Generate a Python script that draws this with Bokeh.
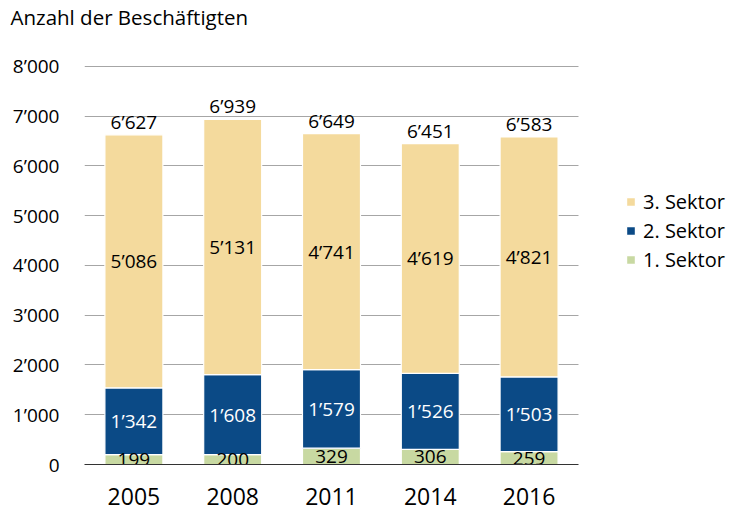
from bokeh.plotting import figure
from bokeh.models import (ColumnDataSource, Range1d, FixedTicker, BoxAnnotation,
                          Legend, LegendItem, Title)
from bokeh.core.properties import value
from bokeh.embed import file_html
from bokeh.resources import INLINE

years = ["2005", "2008", "2011", "2014", "2016"]
sektor1 = [199, 200, 329, 306, 259]
sektor2 = [1342, 1608, 1579, 1526, 1503]
sektor3 = [5086, 5131, 4741, 4619, 4821]
y_ticks = [0, 1000, 2000, 3000, 4000, 5000, 6000, 7000, 8000]

FONT = "Open Sans"
C1, C2, C3 = "#C8D9A2", "#0B4A86", "#F4DA9D"


def fmt(v):
    return f"{v:,}".replace(",", "\u2019")


xs = list(range(len(years)))
totals = [a + b + c for a, b, c in zip(sektor1, sektor2, sektor3)]
src = ColumnDataSource(dict(
    x=xs, years=years, s1=sektor1, s2=sektor2, s3=sektor3,
    m1=[v / 2 for v in sektor1],
    m2=[a + b / 2 for a, b in zip(sektor1, sektor2)],
    m3=[a + b + c / 2 for a, b, c in zip(sektor1, sektor2, sektor3)],
    tot=totals,
    l1=[fmt(v) for v in sektor1], l2=[fmt(v) for v in sektor2],
    l3=[fmt(v) for v in sektor3], lt=[fmt(v) for v in totals],
))

# plot frame spans 84..732 px; bar slots 98.8 px wide, legend sits right of them
p = figure(width=732, height=511, x_range=Range1d(-0.5, 6.059),
           y_range=Range1d(0, 8020), output_backend="svg",
           toolbar_location=None, min_border_left=84, min_border_right=0,
           min_border_top=65, min_border_bottom=47)
p.outline_line_color = None

# spacer (innermost) + real title on top
spacer = Title(text=" ", text_font=FONT, text_font_size="10px", standoff=19)
p.add_layout(spacer, "above")
title = Title(text="Anzahl der Besch\u00e4ftigten", align="left",
              text_font=FONT, text_font_size="20.5px", text_font_style="normal",
              text_color="#000000", offset=-74, standoff=0)
p.add_layout(title, "above")

# hide gridlines to the right of the bar area (legend region)
p.add_layout(BoxAnnotation(left=len(years) - 0.5, fill_color="white",
                           fill_alpha=1, line_color=None, level="underlay"))

r = p.vbar_stack(["s1", "s2", "s3"], x="x", width=0.587, source=src,
                 color=[C1, C2, C3], line_color="white", line_width=1.2)

LBL = "19px"
p.text(x="x", y="m1", text="l1", source=src, text_align="center",
       text_baseline="middle", text_font=value(FONT), text_font_size=LBL,
       text_color="black")
p.text(x="x", y="m2", text="l2", source=src, text_align="center",
       text_baseline="middle", text_font=value(FONT), text_font_size=LBL,
       text_color="white")
p.text(x="x", y="m3", text="l3", source=src, text_align="center",
       text_baseline="middle", text_font=value(FONT), text_font_size=LBL,
       text_color="black")
p.text(x="x", y="tot", text="lt", source=src, text_align="center",
       text_baseline="bottom", y_offset=0, text_font=value(FONT),
       text_font_size=LBL, text_color="black")

# axes
p.yaxis.ticker = FixedTicker(ticks=y_ticks)
p.yaxis.major_label_overrides = {t: fmt(t) for t in y_ticks}
p.yaxis.axis_line_color = None
p.yaxis.major_tick_line_color = None
p.yaxis.minor_tick_line_color = None
p.yaxis.major_label_standoff = 19
p.yaxis.major_label_text_font = FONT
p.yaxis.major_label_text_font_size = "19px"
p.yaxis.major_label_text_color = "black"

p.xaxis.ticker = FixedTicker(ticks=xs)
p.xaxis.major_label_overrides = {i: y for i, y in zip(xs, years)}
p.xaxis.bounds = (-0.5, len(years) - 0.5)
p.xaxis.axis_line_color = "#333333"
p.xaxis.axis_line_width = 1.2
p.xaxis.major_tick_line_color = None
p.xaxis.minor_tick_line_color = None
p.xaxis.major_label_standoff = 17
p.xaxis.major_label_text_font = FONT
p.xaxis.major_label_text_font_size = "23px"
p.xaxis.major_label_text_color = "black"

p.xgrid.grid_line_color = None
p.ygrid.grid_line_color = "#A6A6A6"
p.ygrid.grid_line_width = 1

legend = Legend(items=[
    LegendItem(label="3. Sektor", renderers=[r[2]]),
    LegendItem(label="2. Sektor", renderers=[r[1]]),
    LegendItem(label="1. Sektor", renderers=[r[0]]),
], location=(541, 191))
legend.border_line_color = None
legend.background_fill_alpha = 0
legend.glyph_width = 11
legend.glyph_height = 11
legend.label_height = 20
legend.spacing = 2
legend.label_standoff = 7
legend.padding = 0
legend.margin = 0
legend.label_text_font = FONT
legend.label_text_font_size = "20px"
legend.label_text_color = "black"
p.add_layout(legend, "center")

open("out.html", "w").write(file_html(p, INLINE))
